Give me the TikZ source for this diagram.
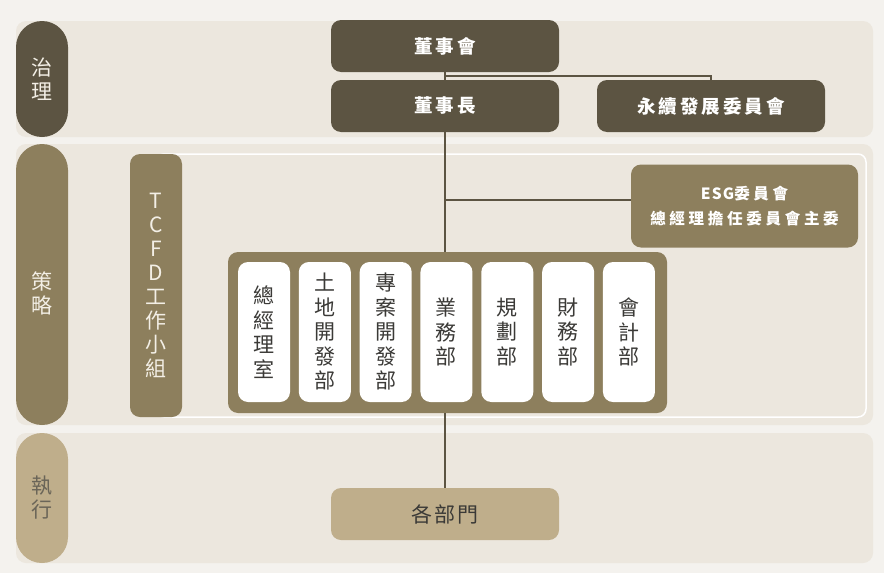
\documentclass[tikz,border=0pt]{standalone}
\usepackage{fontspec}
\setmainfont{Noto Sans CJK TC}
\newfontfamily\headfont[LetterSpace=16]{Noto Sans CJK TC}
\newfontfamily\esgfont[LetterSpace=24]{Noto Sans CJK TC}
\newfontfamily\esglatin[LetterSpace=8]{Noto Sans CJK TC}
\newfontfamily\deptfont[LetterSpace=8]{Noto Sans CJK TC}
\definecolor{pagecol}{HTML}{F4F2EE}
\definecolor{bandcol}{HTML}{ECE7DE}
\definecolor{darkcol}{HTML}{5C5442}
\definecolor{midcol}{HTML}{8D7F5D}
\definecolor{tancol}{HTML}{BFAE8B}
\definecolor{lighttext}{HTML}{F3EFE6}
\definecolor{graytext}{HTML}{6A6558}
\definecolor{cardtext}{HTML}{3B3A37}
\tikzset{
    pill/.style={rounded corners=26pt, minimum width=52pt, inner sep=0pt, align=center,
        font=\fontsize{21}{24}\selectfont},
    govbox/.style={fill=darkcol, rounded corners=10pt, minimum width=228pt, minimum height=52pt,
        inner sep=0pt, text=white, font=\headfont\bfseries\fontsize{18.5}{22}\selectfont},
    card/.style={fill=white, rounded corners=10pt, minimum width=52pt, minimum height=140pt,
        inner sep=0pt, align=center, text=cardtext, font=\fontsize{21}{24.5}\selectfont},
    link/.style={draw=darkcol, line width=2pt},
}
\newcommand\LayerBand[6]{%
    \fill[bandcol, rounded corners=10pt] (16,#2) rectangle (873,#3);
    \node[pill, fill=#4, text=#5, minimum height={#3-#2}] (#1) at (42,{(#2+#3)/2}) {#6};
}

\begin{document}
\begin{tikzpicture}[x=1pt,y=-1pt]
    \useasboundingbox (0,0) rectangle (884,573);
    \fill[pagecol] (0,0) rectangle (884,573);
    \LayerBand{GovPill}{21}{137}{darkcol}{lighttext}{治\\理}
    \LayerBand{StratPill}{144}{425}{midcol}{lighttext}{\rule{0pt}{36pt}策\\略}
    \LayerBand{ExecPill}{433}{563}{tancol}{graytext}{執\\行}
    \draw[white, line width=1.5pt, rounded corners=8pt] (156,154) rectangle (866,417);
    \node[pill, fill=midcol, text=lighttext, rounded corners=10pt, minimum height=263pt] (TCFD) at (156,285.5) {T\\C\\F\\D\\工\\作\\小\\組};
    \node[govbox] (Board) at (445,46) {董事會};
    \node[govbox] (Chair) at (445,106) {董事長};
    \node[govbox] (SusCom) at (711,106) {永續發展委員會};
    \node[fill=midcol, rounded corners=10pt, minimum width=227pt, minimum height=83pt, inner sep=0pt,
        align=center, text=white, font=\esgfont\bfseries\fontsize{15.5}{25}\selectfont] (ESG) at (744.5,206)
        {{\esglatin\bfseries ESG}委員會\\總經理擔任委員會主委};
    \node[fill=midcol, rounded corners=10pt, minimum width=439pt, minimum height=161pt] (DeptGroup) at (447.5,332.5) {};
    \foreach \name [count=\i from 0] in {{總\\經\\理\\室},{土\\地\\開\\發\\部},{專\\案\\開\\發\\部},
        {業\\務\\部},{規\\劃\\部},{財\\務\\部},{會\\計\\部}}
        \node[card] (Card\i) at ({264+60.83*\i},332) {\name};
    \node[fill=tancol, rounded corners=10pt, minimum width=228pt, minimum height=52pt, inner sep=0pt,
        text=cardtext, font=\deptfont\fontsize{21}{24}\selectfont] (Depts) at (445,514) {各部門};
    \coordinate (ESGBranch) at ([yshift=6pt]ESG.west);
    \draw[link] (Board.south) -- (Chair.north);
    \draw[link] (Board.south) -- ++(0,4) -| (SusCom.north);
    \draw[link] (Chair.south) -- (Chair.south |- DeptGroup.north);
    \draw[link] (Chair.south |- ESGBranch) -- (ESGBranch);
    \draw[link] (DeptGroup.south -| Depts.north) -- (Depts.north);
\end{tikzpicture}
\end{document}
